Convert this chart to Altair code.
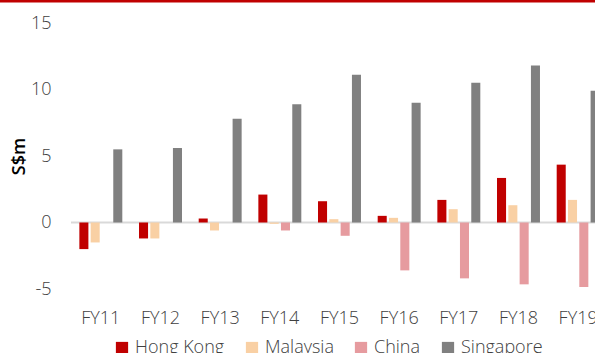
import altair as alt
import pandas as pd

years = ["FY11", "FY12", "FY13", "FY14", "FY15", "FY16", "FY17", "FY18", "FY19"]
series = ["Hong Kong", "Malaysia", "China", "Singapore"]
hong_kong = [-2.0, -1.2, 0.3, 2.1, 1.6, 0.5, 1.7, 3.35, 4.35]
malaysia = [-1.5, -1.2, -0.6, -0.1, 0.25, 0.35, 1.0, 1.3, 1.7]
china = [0.0, 0.0, 0.0, -0.6, -1.0, -3.6, -4.2, -4.65, -4.85]
singapore = [5.5, 5.6, 7.8, 8.9, 11.1, 9.0, 10.5, 11.8, 9.9]
colors = ["#C00000", "#F9D0A4", "#E69B9F", "#808080"]

rows = []
for name, vals in zip(series, [hong_kong, malaysia, china, singapore]):
    for y, v in zip(years, vals):
        rows.append({"year": y, "series": name, "value": v})
df = pd.DataFrame(rows)

W, H = 524, 266
XR = 537
FONT = "Open Sans"
LC = "#404040"

bars = alt.Chart(df).mark_bar().encode(
    x=alt.X("year:N", sort=years, title=None,
            scale=alt.Scale(paddingInner=0.28, paddingOuter=0.14, range=[0, XR]),
            axis=alt.Axis(labelAngle=0, ticks=False, domain=False, labelPadding=20,
                          labelFontSize=18, labelFont=FONT, labelColor=LC,
                          labelFontWeight=300)),
    xOffset=alt.XOffset("series:N", sort=series,
                        scale=alt.Scale(paddingInner=0.2, paddingOuter=0)),
    y=alt.Y("value:Q", title="S$m",
            scale=alt.Scale(domain=[-5, 15], nice=False),
            axis=alt.Axis(values=[-5, 0, 5, 10, 15], grid=False, ticks=False, domain=False,
                          labelExpr="'' + datum.value",
                          labelFontSize=18, labelFont=FONT, labelColor=LC,
                          labelFontWeight=300,
                          labelPadding=20, titleFont=FONT, titleFontSize=18,
                          titleColor="#000000", titleFontWeight=600, titlePadding=2)),
    color=alt.Color("series:N", sort=series,
                    scale=alt.Scale(domain=series, range=colors),
                    legend=alt.Legend(title=None, orient="none", direction="horizontal",
                                      legendX=42, legendY=316,
                                      symbolType="square", symbolSize=150,
                                      symbolStrokeWidth=0, labelFont=FONT,
                                      labelFontSize=18, labelColor=LC,
                                      labelFontWeight=300,
                                      labelOffset=4, columnPadding=18)),
)

zero = alt.Chart(pd.DataFrame({"v": [0]})).mark_rule(color="#D9D9D9", strokeWidth=2).encode(
    y="v:Q", x=alt.value(0), x2=alt.value(W)
)

topline = alt.Chart(pd.DataFrame({"v": [0]})).mark_rule(color="#C00000", strokeWidth=3).encode(
    y=alt.value(-22), x=alt.value(-80), x2=alt.value(W + 20)
)

chart = alt.layer(zero, bars, topline).properties(
    width=W, height=H,
    autosize=alt.AutoSizeParams(type="none"),
    padding={"left": 71, "top": 23, "right": 0, "bottom": 64},
).configure_view(stroke=None)

chart.save("out.html", embed_options={"renderer": "svg", "actions": False})
